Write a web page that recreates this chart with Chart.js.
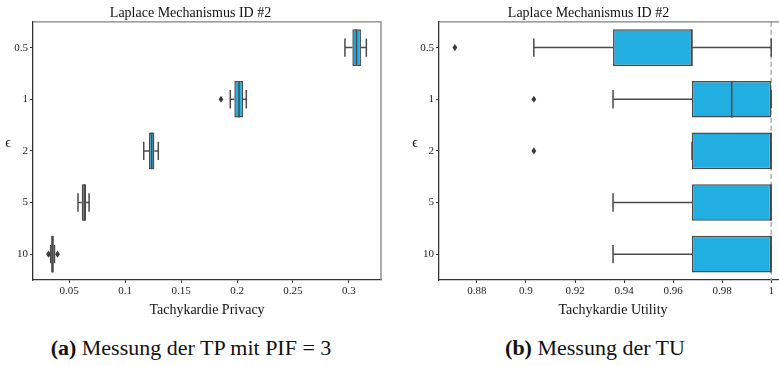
<!DOCTYPE html>
<html>
<head>
<meta charset="utf-8">
<script src="https://cdn.jsdelivr.net/npm/chart.js@4.4.0/dist/chart.umd.min.js"></script>
<style>
  body { margin: 0; width: 779px; height: 366px; background: #fff; overflow: hidden; position: relative;
         font-family: "Liberation Serif", "DejaVu Serif", serif; color: #111; }
  #boxA { position: absolute; left: 0; top: 0; width: 390px; height: 325px; }
  #boxB { position: absolute; left: 390px; top: 0; width: 389px; height: 325px; overflow: hidden; }
  .cap { position: absolute; top: 335px; width: 400px; text-align: center; font-size: 22px; white-space: nowrap; }
</style>
</head>
<body>
<div id="boxA"><canvas id="chartA" width="390" height="325"></canvas></div>
<div id="boxB"><canvas id="chartB" width="398" height="325"></canvas></div>
<div class="cap" style="left:-9px"><b>(a)</b> Messung der TP mit PIF = 3</div>
<div class="cap" style="left:395px"><b>(b)</b> Messung der TU</div>

<script>
var epsLabels = ['0.5', '1', '2', '5', '10'];

// (a) Tachykardie Privacy
var tpLow = [0.2964, 0.1940, 0.1167, 0.0580, 0.0336];
var tpQ1 = [0.3030, 0.1976, 0.1214, 0.0613, 0.0340];
var tpMedian = [0.3067, 0.2018, 0.1238, 0.0637, 0.0352];
var tpQ3 = [0.3107, 0.2054, 0.1262, 0.0652, 0.0364];
var tpHigh = [0.3155, 0.2083, 0.1297, 0.0679, 0.0370];
var tpOutliers = [[], [0.1857], [], [], [0.0317, 0.0397]];
var tpTicks = [0.05, 0.1, 0.15, 0.2, 0.25, 0.3];

// (b) Tachykardie Utility
var tuLow = [0.9032, 0.9355, 0.9677, 0.9355, 0.9355];
var tuQ1 = [0.9355, 0.9677, 0.9677, 0.9677, 0.9677];
var tuMedian = [0.9677, 0.9839, 1, 1, 1];
var tuQ3 = [0.9677, 1, 1, 1, 1];
var tuHigh = [1, 1, 1, 1, 1];
var tuOutliers = [[0.8710], [0.9032], [0.9032], [], []];
var tuTicks = [0.88, 0.9, 0.92, 0.94, 0.96, 0.98, 1];

var FONT = '"Liberation Serif", "DejaVu Serif", serif';
var BOX_FILL = '#22aee0';
var EDGE = '#4a4a4a';

// whiskers, medians, outliers and spines drawn with the chart's own scales
function boxExtras(q1, q3, low, high, med, outliers, refLine) {
  return {
    id: 'boxExtras',
    beforeDatasetsDraw: function(chart) {
      var ctx = chart.ctx, xs = chart.scales.x, ca = chart.chartArea;
      var bars = chart.getDatasetMeta(0).data;
      ctx.save();
      if (refLine != null) {
        var rx = xs.getPixelForValue(refLine);
        ctx.strokeStyle = '#b0b0b0';
        ctx.lineWidth = 1.5;
        ctx.setLineDash([5, 3]);
        ctx.beginPath(); ctx.moveTo(rx, ca.top); ctx.lineTo(rx, ca.bottom); ctx.stroke();
        ctx.setLineDash([]);
      }
      ctx.strokeStyle = EDGE;
      ctx.lineWidth = 1.5;
      bars.forEach(function(bar, i) {
        var y = bar.y, cap = bar.height / 4;
        var xl = xs.getPixelForValue(low[i]), xh = xs.getPixelForValue(high[i]);
        var x1 = xs.getPixelForValue(q1[i]), x3 = xs.getPixelForValue(q3[i]);
        ctx.beginPath();
        ctx.moveTo(xl, y); ctx.lineTo(x1, y);
        ctx.moveTo(x3, y); ctx.lineTo(xh, y);
        ctx.moveTo(xl, y - cap); ctx.lineTo(xl, y + cap);
        ctx.moveTo(xh, y - cap); ctx.lineTo(xh, y + cap);
        ctx.stroke();
      });
      ctx.restore();
    },
    afterDatasetsDraw: function(chart) {
      var ctx = chart.ctx, xs = chart.scales.x, ca = chart.chartArea;
      var bars = chart.getDatasetMeta(0).data;
      ctx.save();
      ctx.strokeStyle = EDGE;
      ctx.lineWidth = 1.5;
      bars.forEach(function(bar, i) {
        var mx = xs.getPixelForValue(med[i]);
        var h = bar.height / 2;
        ctx.beginPath(); ctx.moveTo(mx, bar.y - h); ctx.lineTo(mx, bar.y + h); ctx.stroke();
        ctx.fillStyle = '#3a3a3a';
        outliers[i].forEach(function(v) {
          var ox = xs.getPixelForValue(v);
          ctx.beginPath();
          ctx.moveTo(ox, bar.y - 3.6); ctx.lineTo(ox + 2.4, bar.y);
          ctx.lineTo(ox, bar.y + 3.6); ctx.lineTo(ox - 2.4, bar.y);
          ctx.closePath(); ctx.fill();
        });
      });
      // top and right spines
      ctx.strokeStyle = '#808080';
      ctx.lineWidth = 1.3;
      ctx.beginPath();
      ctx.moveTo(ca.left, ca.top); ctx.lineTo(ca.right, ca.top); ctx.lineTo(ca.right, ca.bottom);
      ctx.stroke();
      // y-axis label, horizontal
      ctx.fillStyle = '#111';
      ctx.font = '14px ' + FONT;
      ctx.textAlign = 'center';
      ctx.textBaseline = 'middle';
      ctx.fillText('\u03F5', chart.options.epsX, (ca.top + ca.bottom) / 2 - 8);
      ctx.restore();
    }
  };
}

function makeChart(id, q1, q3, ticks, xMin, xMax, xTitle, yWidth, padRight, epsX, extras) {
  return new Chart(document.getElementById(id), {
    type: 'bar',
    data: {
      labels: epsLabels,
      datasets: [{
        data: epsLabels.map(function(l, i) { return [q1[i], q3[i]]; }),
        backgroundColor: BOX_FILL,
        borderColor: EDGE,
        borderWidth: 1.5,
        borderSkipped: false,
        barPercentage: 0.71,
        categoryPercentage: 1
      }]
    },
    options: {
      indexAxis: 'y',
      responsive: false,
      animation: false,
      epsX: epsX,
      layout: { padding: { left: 0, right: padRight, top: 0, bottom: 0 } },
      plugins: {
        legend: { display: false },
        tooltip: { enabled: false },
        title: {
          display: true,
          text: 'Laplace Mechanismus ID #2',
          color: '#111',
          font: { family: FONT, size: 14, weight: 'normal' },
          padding: { top: 5, bottom: 0 }
        }
      },
      scales: {
        x: {
          type: 'linear',
          min: xMin,
          max: xMax,
          afterBuildTicks: function(s) { s.ticks = ticks.map(function(v) { return { value: v }; }); },
          ticks: {
            color: '#222',
            font: { family: FONT, size: 11 },
            padding: 2,
            maxRotation: 0,
            callback: function(v) { return String(v); }
          },
          grid: { display: true, drawOnChartArea: false, drawTicks: true, tickLength: 3, color: '#333' },
          border: { display: true, color: '#333', width: 1.3 },
          title: {
            display: true,
            text: xTitle,
            color: '#111',
            font: { family: FONT, size: 14 },
            padding: { top: 2, bottom: 6 }
          }
        },
        y: {
          type: 'category',
          offset: true,
          ticks: { color: '#222', font: { family: FONT, size: 11 }, padding: 2 },
          grid: { display: true, offset: false, drawOnChartArea: false, drawTicks: true, tickLength: 3, color: '#333' },
          border: { display: true, color: '#333', width: 1.3 },
          afterFit: function(s) { s.width = yWidth; }
        }
      }
    },
    plugins: [extras]
  });
}

makeChart('chartA', tpQ1, tpQ3, tpTicks, 0.0178, 0.3286, 'Tachykardie Privacy', 33, 9, 8,
  boxExtras(tpQ1, tpQ3, tpLow, tpHigh, tpMedian, tpOutliers, null));
makeChart('chartB', tuQ1, tuQ3, tuTicks, 0.86452, 1.00645, 'Tachykardie Utility', 49, 1, 25,
  boxExtras(tuQ1, tuQ3, tuLow, tuHigh, tuMedian, tuOutliers, 1));
</script>
</body>
</html>
